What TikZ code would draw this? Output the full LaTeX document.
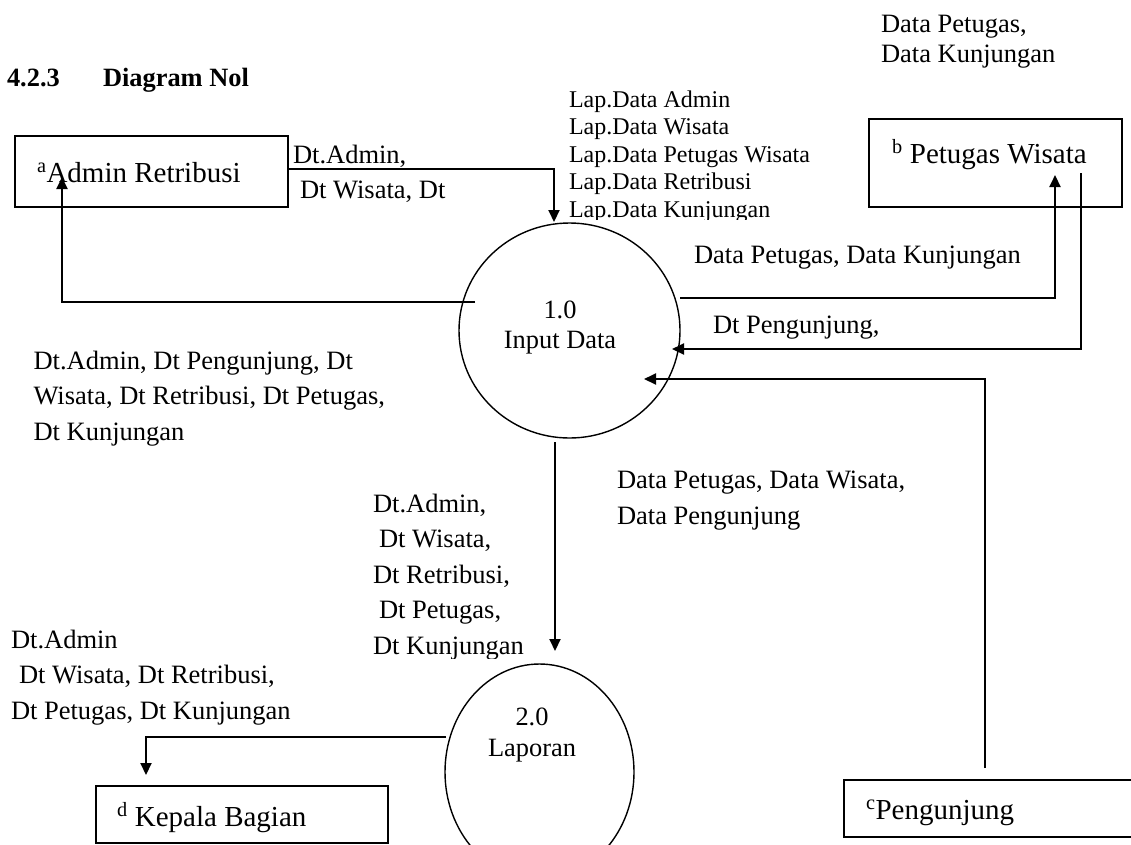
\documentclass[tikz,border=0pt]{standalone}
\usepackage{fontspec}
\setmainfont{Liberation Serif}
\usetikzlibrary{arrows.meta,shapes.geometric}
\newcommand\mlines[1]{\begin{tabular}[t]{@{}l@{}}#1\end{tabular}}
\tikzset{
  lbl/.style={anchor=base west, inner sep=0pt, outer sep=0pt, font=\fontsize{26.5}{35.5}\selectfont},
  laplbl/.style={anchor=base west, inner sep=0pt, outer sep=0pt, font=\fontsize{24}{27.5}\selectfont},
  hd/.style={anchor=base west, inner sep=0pt, outer sep=0pt, font=\fontsize{26.4}{30}\selectfont\bfseries},
  entbox/.style={draw, rectangle, line width=2pt, inner sep=0pt},
  enttxt/.style={anchor=base west, inner sep=0pt, outer sep=0pt, font=\fontsize{29}{34}\selectfont},
  procshape/.style={draw, ellipse, line width=1.4pt, inner sep=0pt},
  proctxt/.style={anchor=base, inner sep=0pt, outer sep=0pt, font=\fontsize{26.4}{30}\selectfont},
  flow/.style={line width=2pt, -{Triangle[length=12pt,width=11pt]}}
}
\begin{document}
\begin{tikzpicture}[x=1pt,y=-1pt]
\clip (0,0) rectangle (1131,844);
\fill[white] (0,0) rectangle (1131,844);

% heading
\node[hd] (h1) at (7,86) {4.2.3};
\node[hd] (h2) at (103,86) {Diagram Nol};

% external entities
\node[entbox, minimum width=273pt, minimum height=71pt] (adm) at (151.5,171.5) {};
\node[entbox, minimum width=253pt, minimum height=88pt] (pet) at (995.5,163) {};
\node[entbox, minimum width=292pt, minimum height=57pt] (kep) at (242,814.5) {};
\node[entbox, minimum width=300pt, minimum height=57pt] (pen) at (994,808.5) {};
\node[enttxt] (admt) at (37,182) {\textsuperscript{a}Admin Retribusi};
\node[enttxt] (pett) at (892,163) {\textsuperscript{b} Petugas Wisata};
\node[enttxt] (kept) at (117,826) {\textsuperscript{d} Kepala Bagian};
\node[enttxt] (pent) at (866,819) {\textsuperscript{c}Pengunjung};

% processes
\node[procshape, minimum width=221pt, minimum height=215pt] (p1) at (569.5,330.5) {};
\node[procshape, minimum width=189pt, minimum height=216pt] (p2) at (539.5,772) {};
\node[proctxt] (p1a) at (560,318) {1.0};
\node[proctxt] (p1b) at (560,348) {Input Data};
\node[proctxt] (p2a) at (532,725) {2.0};
\node[proctxt] (p2b) at (532,756) {Laporan};

% connector end points
\coordinate (a1) at (554,222);
\coordinate (b0) at (475,302);
\coordinate (b1) at (62,177);
\coordinate (c0) at (680,298);
\coordinate (c1) at (1055,175);
\coordinate (d0) at (1081,173);
\coordinate (d1) at (672,349);
\coordinate (e0) at (985,768);
\coordinate (e1) at (644,379);
\coordinate (f0) at (555,442);
\coordinate (f1) at (555,651);
\coordinate (g0) at (446,737);
\coordinate (g1) at (146,775);

% flows
\draw[flow] ([yshift=2.5pt]adm.east) -| (a1);
\draw[flow] (b0) -| (b1);
\draw[flow] (c0) -| (c1);
\draw[flow] (d0) |- (d1);
\draw[flow] (e0) |- (e1);
\draw[flow] (f0) -- (f1);
\draw[flow] (g0) -| (g1);

% labels
\node[lbl] (l1) at (293,163) {\mlines{Dt.Admin,\\\hspace*{7pt}Dt Wisata, Dt}};
\begin{scope}
\clip (560,80) rectangle (840,219);
\node[laplbl] (l2) at (569,107) {\mlines{Lap.Data Admin\\Lap.Data Wisata\\Lap.Data Petugas Wisata\\Lap.Data Retribusi\\Lap.Data Kunjungan}};
\end{scope}
\node[lbl, font=\fontsize{26.5}{30}\selectfont] (l3) at (881,32) {\mlines{Data Petugas,\\Data Kunjungan}};
\node[lbl] (l4) at (694,263) {Data Petugas, Data Kunjungan};
\node[lbl] (l5) at (713,333) {Dt Pengunjung,};
\node[lbl] (l6) at (33.5,369) {\mlines{Dt.Admin, Dt Pengunjung, Dt\\Wisata, Dt Retribusi, Dt Petugas,\\Dt Kunjungan}};
\node[lbl, font=\fontsize{26.5}{36.5}\selectfont] (l7) at (617,488) {\mlines{Data Petugas, Data Wisata,\\Data Pengunjung}};
\begin{scope}
\clip (360,480) rectangle (540,658.5);
\node[lbl] (l8) at (373,512) {\mlines{Dt.Admin,\\\hspace*{6pt}Dt Wisata,\\Dt Retribusi,\\\hspace*{6pt}Dt Petugas,\\Dt Kunjungan}};
\end{scope}
\node[lbl] (l9) at (11,648) {\mlines{Dt.Admin\\\hspace*{8pt}Dt Wisata, Dt Retribusi,\\Dt Petugas, Dt Kunjungan}};
\end{tikzpicture}
\end{document}
